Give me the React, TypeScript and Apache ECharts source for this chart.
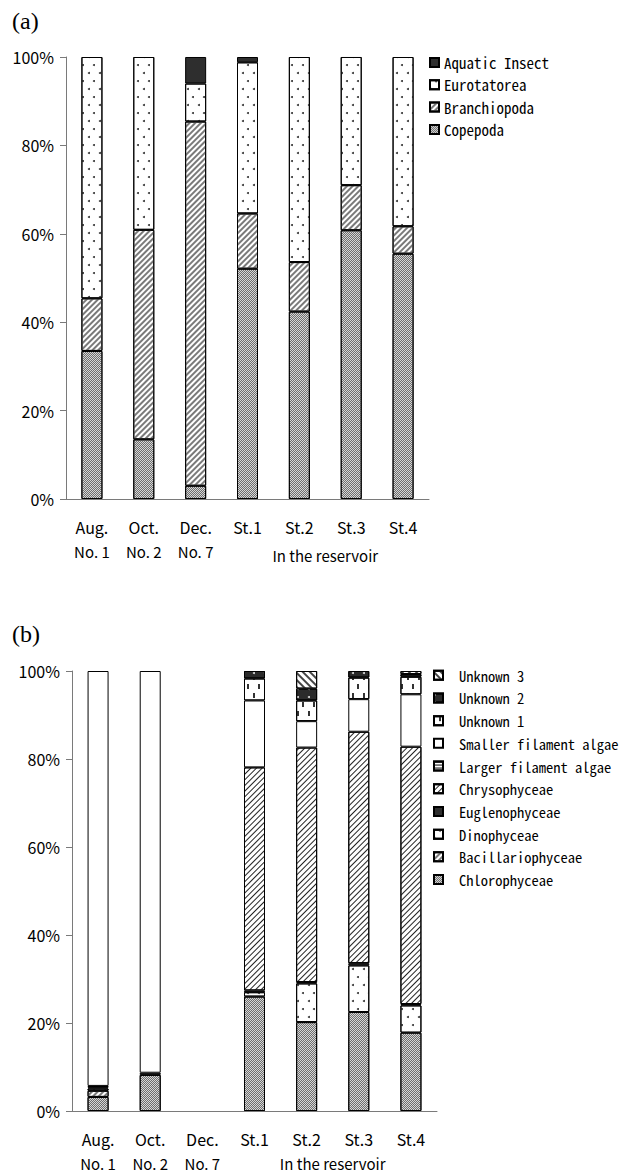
import React, { useEffect, useRef } from "react";
import * as echarts from "echarts";

// ---------- data ----------
const categories = ["Aug.", "Oct.", "Dec.", "St.1", "St.2", "St.3", "St.4"];
const subLabels = ["No. 1", "No. 2", "No. 7", "", "", "", ""];
const groupLabel = "In the reservoir";
const panelA = "(a)";
const panelB = "(b)";

// (a) zooplankton composition (%)
const copepoda = [33.5, 13.5, 3.0, 52.1, 42.4, 60.8, 55.5];
const branchiopoda = [11.9, 47.4, 82.4, 12.5, 11.2, 10.2, 6.2];
const eurotatorea = [54.6, 39.1, 8.6, 34.2, 46.4, 29.0, 38.3];
const aquaticInsect = [0, 0, 6.0, 1.2, 0, 0, 0];

// (b) phytoplankton composition (%)
const chlorophyceae = [3.2, 8.2, 0, 26.0, 20.2, 22.5, 17.8];
const bacillariophyceae = [1.4, 0, 0, 0, 0, 0, 0];
const dinophyceae = [0.5, 0, 0, 1.0, 8.8, 10.6, 6.2];
const euglenophyceae = [0.3, 0.5, 0, 0.4, 0.3, 0.5, 0.3];
const chrysophyceae = [0, 0, 0, 50.7, 53.3, 52.6, 58.5];
const largerFilament = [0.3, 0, 0, 0, 0, 0, 0];
const smallerFilament = [94.3, 91.3, 0, 15.2, 6.0, 7.4, 11.9];
const unknown1 = [0, 0, 0, 5.0, 4.7, 4.9, 4.0];
const unknown2 = [0, 0, 0, 1.7, 2.7, 1.5, 0.6];
const unknown3 = [0, 0, 0, 0, 4.0, 0, 0.7];

const yTicks = [0, 20, 40, 60, 80, 100];

// ---------- styles ----------
const FONT = "'Noto Sans CJK JP', 'Noto Sans', sans-serif";
const LFONT = "'Noto Sans Mono CJK JP', 'DejaVu Sans Mono', monospace";

const checker = {
  color: "#d6d6d6",
  decal: { symbol: "rect", symbolSize: 1, dashArrayX: [[1, 1], [0, 1, 1, 0]], dashArrayY: [1, 0], color: "#6e6e6e" },
};
const lightHatch = {
  color: "#ffffff",
  decal: { symbol: "rect", symbolSize: 1, dashArrayX: [1, 0], dashArrayY: [1.6, 1.6], rotation: -Math.PI / 4, color: "#7a7a7a" },
};
const darkHatch = {
  color: "#ffffff",
  decal: { symbol: "rect", symbolSize: 1, dashArrayX: [1, 0], dashArrayY: [1, 2.4], rotation: -Math.PI / 4, color: "#222222" },
};
const backHatch = {
  color: "#ffffff",
  decal: { symbol: "rect", symbolSize: 1, dashArrayX: [1, 0], dashArrayY: [1.2, 2.4], rotation: Math.PI / 4, color: "#444444" },
};
const dots = {
  color: "#ffffff",
  decal: { symbol: "circle", symbolSize: 1, dashArrayX: [[1.8, 8.2], [0, 5, 1.8, 3.2]], dashArrayY: [1.8, 6], color: "#333333" },
};
const dashes = {
  color: "#ffffff",
  decal: { symbol: "rect", symbolSize: 1, dashArrayX: [[1.2, 8.8], [0, 5, 1.2, 3.8]], dashArrayY: [5, 4], color: "#333333" },
};
const darkDots = {
  color: "#2b2b2b",
  decal: { symbol: "circle", symbolSize: 1, dashArrayX: [1.6, 9], dashArrayY: [1.6, 6], color: "#dddddd" },
};
const hLines = {
  color: "#ffffff",
  decal: { symbol: "rect", symbolSize: 1, dashArrayX: [1, 0], dashArrayY: [1, 2], color: "#000000" },
};
const solidDark = { color: "#2e2e2e" };
const plain = { color: "#ffffff" };

const GA = { left: 66, top: 57, width: 363, height: 442 };
const GB = { left: 72, top: 671, width: 365, height: 441 };

function mkSeries(name: string, data: number[], style: any, idx: number) {
  return {
    type: "bar",
    name,
    stack: idx === 0 ? "a" : "b",
    xAxisIndex: idx,
    yAxisIndex: idx,
    barWidth: 21,
    data: data.map((v) => (v === 0 ? null : v)),
    itemStyle: { color: style.color, borderColor: "#000", borderWidth: 1, decal: style.decal },
    emphasis: { disabled: true },
  };
}

const seriesA = [
  mkSeries("Copepoda", copepoda, checker, 0),
  mkSeries("Branchiopoda", branchiopoda, lightHatch, 0),
  mkSeries("Eurotatorea", eurotatorea, dots, 0),
  mkSeries("Aquatic Insect", aquaticInsect, solidDark, 0),
];
const seriesB = [
  mkSeries("Chlorophyceae", chlorophyceae, checker, 1),
  mkSeries("Bacillariophyceae", bacillariophyceae, lightHatch, 1),
  mkSeries("Dinophyceae", dinophyceae, dots, 1),
  mkSeries("Euglenophyceae", euglenophyceae, solidDark, 1),
  mkSeries("Chrysophyceae", chrysophyceae, darkHatch, 1),
  mkSeries("Larger filament algae", largerFilament, hLines, 1),
  mkSeries("Smaller filament algae", smallerFilament, plain, 1),
  mkSeries("Unknown 1", unknown1, dashes, 1),
  mkSeries("Unknown 2", unknown2, darkDots, 1),
  mkSeries("Unknown 3", unknown3, backHatch, 1),
];

function xAxis(gridIndex: number) {
  return {
    type: "category",
    gridIndex,
    data: categories,
    axisLine: { lineStyle: { color: "#7a7a7a", width: 1 } },
    axisTick: { length: 6, lineStyle: { color: "#7a7a7a" } },
    axisLabel: {
      interval: 0,
      margin: 15,
      fontFamily: FONT,
      fontSize: 16,
      lineHeight: 25,
      color: "#000",
      formatter: (v: string, i: number) => (subLabels[i] ? `${v}\n{s|${subLabels[i]}}` : v),
      rich: { s: { fontFamily: FONT, fontSize: 15, lineHeight: 24, color: "#000" } },
    },
  };
}
function yAxis(gridIndex: number) {
  return {
    type: "value",
    gridIndex,
    min: yTicks[0],
    max: yTicks[yTicks.length - 1],
    interval: yTicks[1] - yTicks[0],
    splitLine: { show: false },
    axisLine: { show: true, lineStyle: { color: "#7a7a7a", width: 1 } },
    axisTick: { show: true, length: 6, lineStyle: { color: "#7a7a7a" } },
    axisLabel: { margin: 12, fontFamily: FONT, fontSize: 16, color: "#000", formatter: "{value}%" },
  };
}

function legend(names: string[], left: number, top: number, gap: number, pad: number, size: number) {
  return {
    data: names,
    orient: "vertical",
    left,
    top,
    padding: 0,
    icon: "rect",
    itemWidth: 9,
    itemHeight: 9,
    itemGap: gap,
    selectedMode: false,
    textStyle: { fontFamily: LFONT, fontSize: size, lineHeight: 14, color: "#000", padding: [0, 0, 0, pad] },
  };
}

export default function App() {
  const ref = useRef<HTMLDivElement>(null);
  useEffect(() => {
    if (!ref.current) return;
    const chart = echarts.init(ref.current, undefined, { renderer: "svg" });
    chart.setOption({
      animation: false,
      textStyle: { fontFamily: FONT },
      grid: [
        { left: GA.left, top: GA.top, width: GA.width, height: GA.height },
        { left: GB.left, top: GB.top, width: GB.width, height: GB.height },
      ],
      xAxis: [xAxis(0), xAxis(1)],
      yAxis: [yAxis(0), yAxis(1)],
      legend: [
        legend(["Aquatic Insect", "Eurotatorea", "Branchiopoda", "Copepoda"], 429, 55, 7.3, 0, 15),
        legend(seriesB.map((s) => s.name).reverse(), 433, 668, 8.2, 11, 14.5),
      ],
      series: [...seriesA, ...seriesB],
      graphic: [
        { type: "text", left: 12, top: 9, style: { text: panelA, font: "24px 'Liberation Serif', serif", fill: "#000" } },
        { type: "text", left: 12, top: 622, style: { text: panelB, font: "24px 'Liberation Serif', serif", fill: "#000" } },
        {
          type: "text",
          x: GA.left + (GA.width * 5) / 7,
          y: 555,
          style: { text: groupLabel, font: `15px ${FONT}`, fill: "#000", align: "center", verticalAlign: "middle" },
        },
        {
          type: "text",
          x: GB.left + (GB.width * 5) / 7,
          y: 1163,
          style: { text: groupLabel, font: `15px ${FONT}`, fill: "#000", align: "center", verticalAlign: "middle" },
        },
      ],
    });
    return () => chart.dispose();
  }, []);
  return (
    <div
      ref={ref}
      style={{ position: "absolute", left: 0, top: 0, width: 630, height: 1175, background: "#fff" }}
    />
  );
}
